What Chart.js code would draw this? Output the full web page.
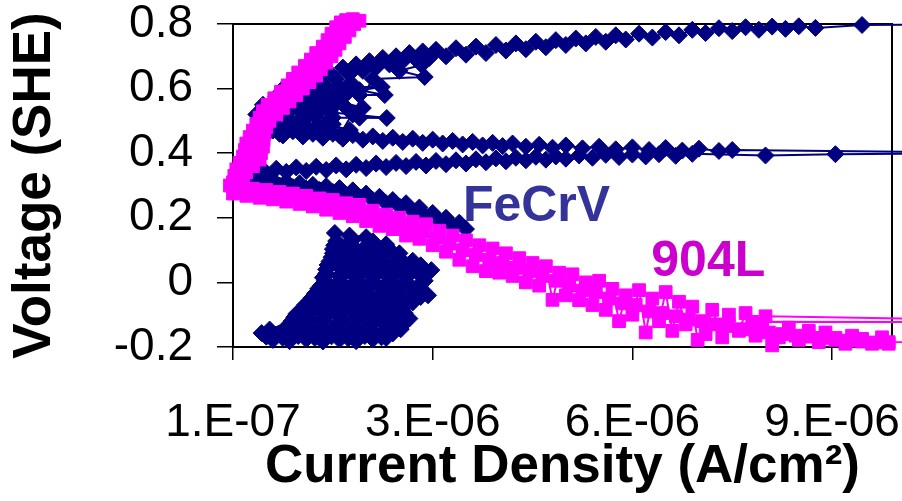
<!DOCTYPE html>
<html lang="en">
<head>
<meta charset="UTF-8">
<title>FeCrV vs 904L polarization</title>
<script src="https://cdn.jsdelivr.net/npm/chart.js"></script>
<style>
  html, body { margin: 0; padding: 0; background: #fff; }
  canvas { display: block; }
</style>
</head>
<body>
<canvas id="chart" width="902" height="501"></canvas>
<script>
// current density in uA/cm2 (converted to A/cm2 below), voltage in V vs SHE
const fecrvCathodic = [
  [0.7,-0.178],[0.95,-0.182],[1.2,-0.176],[1.45,-0.183],[1.7,-0.177],[1.95,-0.182],[2.2,-0.176],[2.4,-0.172],
  [2.5,-0.158],[2.25,-0.162],[2.0,-0.155],[1.75,-0.16],[1.5,-0.154],[1.25,-0.16],[1.0,-0.156],[0.75,-0.162],[0.53,-0.157],
  [0.9,-0.138],[1.15,-0.132],[1.4,-0.138],[1.65,-0.131],[1.9,-0.137],[2.15,-0.13],[2.4,-0.136],[2.6,-0.13],
  [2.75,-0.112],[2.5,-0.108],[2.25,-0.114],[2.0,-0.107],[1.75,-0.113],[1.5,-0.106],[1.25,-0.112],[1.02,-0.108],
  [1.135,-0.085],[1.35,-0.08],[1.6,-0.087],[1.85,-0.081],[2.1,-0.088],[2.35,-0.082],[2.6,-0.086],
  [2.8,-0.062],[2.55,-0.057],[2.3,-0.063],[2.05,-0.056],[1.8,-0.062],[1.55,-0.055],[1.25,-0.06],
  [1.33,-0.035],[1.55,-0.03],[1.8,-0.037],[2.05,-0.031],[2.3,-0.038],[2.55,-0.032],[2.8,-0.037],[3.03,-0.04],
  [2.9,-0.012],[2.65,-0.007],[2.4,-0.013],[2.15,-0.006],[1.9,-0.012],[1.65,-0.005],[1.42,-0.01],
  [1.45,0.015],[1.7,0.02],[1.95,0.013],[2.2,0.019],[2.45,0.012],[2.7,0.018],[2.95,0.014],
  [3.08,0.038],[2.85,0.043],[2.6,0.037],[2.35,0.044],[2.1,0.038],[1.85,0.045],[1.5,0.04],
  [1.55,0.065],[1.8,0.07],[2.05,0.063],[2.3,0.069],[2.55,0.062],[2.8,0.067],
  [2.6,0.09],[2.35,0.095],[2.1,0.088],[1.85,0.094],[1.6,0.09],
  [1.62,0.115],[1.85,0.12],[2.1,0.113],[2.4,0.118],
  [2.1,0.14],[1.85,0.145],[1.63,0.153]
];
const fecrvCathodic2 = [
  [0.6,-0.168],[0.85,-0.172],[1.08,-0.166],[1.33,-0.172],[1.58,-0.167],[1.83,-0.173],[2.08,-0.166],[2.33,-0.17],
  [2.62,-0.145],[2.38,-0.149],[2.12,-0.143],[1.88,-0.149],[1.62,-0.144],[1.38,-0.15],[1.12,-0.145],[0.88,-0.15],[0.65,-0.146],
  [0.98,-0.12],[1.2,-0.125],[1.45,-0.119],[1.7,-0.124],[1.95,-0.118],[2.2,-0.124],[2.45,-0.12],[2.68,-0.125],
  [2.68,-0.095],[2.45,-0.1],[2.2,-0.094],[1.95,-0.099],[1.7,-0.093],[1.45,-0.098],[1.2,-0.094],[1.05,-0.098],
  [1.18,-0.07],[1.42,-0.075],[1.68,-0.069],[1.92,-0.074],[2.18,-0.068],[2.42,-0.073],[2.7,-0.07],
  [2.92,-0.045],[2.68,-0.05],[2.42,-0.044],[2.18,-0.049],[1.92,-0.043],[1.68,-0.048],[1.42,-0.044],[1.28,-0.048],
  [1.38,-0.02],[1.6,-0.025],[1.85,-0.019],[2.1,-0.024],[2.35,-0.018],[2.6,-0.023],[2.85,-0.019],
  [2.98,0.005],[2.72,0.0],[2.48,0.006],[2.22,0.001],[1.98,0.007],[1.72,0.002],[1.48,0.006],
  [1.5,0.028],[1.75,0.024],[2.0,0.03],[2.25,0.025],[2.5,0.031],[2.75,0.026],[3.0,0.03],
  [2.92,0.053],[2.68,0.049],[2.42,0.055],[2.18,0.05],[1.92,0.056],[1.68,0.051],[1.52,0.054],
  [1.58,0.078],[1.82,0.082],[2.08,0.076],[2.32,0.081],[2.58,0.077],
  [2.45,0.103],[2.2,0.107],[1.95,0.101],[1.7,0.106],[1.6,0.103],
  [1.65,0.128],[1.9,0.132],[2.2,0.127]
];
const fecrvActive = [
  [3.6,0.165],[3.5,0.185],[3.4,0.175],[3.3,0.2],[3.2,0.19],[3.1,0.215],[3.0,0.205],[2.9,0.232],
  [2.8,0.22],[2.7,0.245],[2.6,0.235],[2.5,0.255],[2.4,0.245],[2.3,0.265],[2.2,0.255],[2.1,0.275],
  [2.0,0.265],[1.9,0.285],[1.8,0.272],[1.7,0.292],[1.6,0.28],[1.5,0.298],[1.4,0.286],[1.3,0.302],
  [1.2,0.29],[1.1,0.307],[1.0,0.295],[0.9,0.312],[0.8,0.3],[0.7,0.317],[0.6,0.305],[0.5,0.322],
  [0.4,0.312],[0.3,0.332]
];
const fecrvAnodic = [
  [0.3,0.345],[0.45,0.355],[0.6,0.34],[0.75,0.352],[0.9,0.342],[1.05,0.356],[1.2,0.345],[1.35,0.358],
  [1.5,0.348],[1.65,0.362],[1.8,0.35],[1.95,0.364],[2.1,0.354],[2.25,0.368],[2.4,0.357],[2.55,0.37],
  [2.7,0.36],[2.85,0.373],[3.0,0.362],[3.15,0.376],[3.3,0.366],[3.45,0.378],[3.6,0.368],[3.75,0.381],
  [3.9,0.372],[4.05,0.384],[4.2,0.375],[4.35,0.386],[4.5,0.378],[4.65,0.389],[4.8,0.38],[4.95,0.39],
  [5.1,0.383],[5.3,0.393],[5.5,0.386],[5.7,0.395],[5.9,0.388],[6.1,0.396],[6.3,0.39],[6.5,0.397],
  [6.75,0.392],[7.0,0.398],[8.1,0.393],[9.15,0.397],[12,0.4]
];
const fecrvReturn = [
  [0.55,0.46],[0.7,0.47],[0.85,0.455],[1.0,0.468],[1.15,0.452],[1.3,0.464],[1.45,0.448],[1.6,0.46],
  [1.75,0.445],[1.9,0.456],[2.05,0.442],[2.2,0.452],[2.35,0.438],[2.5,0.448],[2.65,0.435],[2.8,0.445],
  [2.95,0.432],[3.1,0.442],[3.25,0.43],[3.4,0.438],[3.55,0.427],[3.7,0.435],[3.85,0.424],[4.0,0.432],
  [4.15,0.422],[4.3,0.43],[4.5,0.42],[4.7,0.426],[4.9,0.417],[5.1,0.424],[5.35,0.415],[5.6,0.42],
  [5.85,0.412],[6.1,0.418],[6.35,0.41],[6.6,0.416],[6.85,0.408],[7.1,0.414],[7.4,0.407],[7.6,0.41],[12,0.4]
];
const fecrvPassive = [
  [0.55,0.48],[0.8,0.46],[1.0,0.49],[0.75,0.52],[1.1,0.5],[1.4,0.47],[1.855,0.472],[1.5,0.49],
  [1.2,0.51],[1.6,0.51],[2.0,0.51],[2.41,0.509],[1.9,0.52],[1.4,0.53],[1.0,0.545],[0.7,0.56],
  [1.2,0.555],[1.5,0.545],[1.78,0.545],[2.05,0.54],[1.7,0.56],[1.3,0.575],[0.9,0.59],[1.2,0.59],
  [1.6,0.585],[2.0,0.58],[2.38,0.58],[2.0,0.595],[2.335,0.605],[1.8,0.605],[1.4,0.615],[1.05,0.62],
  [0.85,0.6],[1.1,0.57],[0.95,0.53],[0.7,0.5],[1.3,0.46],[1.7,0.455],[2.2,0.63],[2.98,0.636],
  [2.6,0.655],[2.935,0.673]
];
const fecrvPassive2 = [
  [0.65,0.468],[0.87,0.474],[1.09,0.466],[1.31,0.473],[1.53,0.467],
  [1.6,0.49],[1.38,0.486],[1.16,0.492],[0.94,0.487],[0.72,0.493],
  [0.68,0.51],[0.9,0.514],[1.12,0.508],[1.34,0.513],[1.56,0.507],
  [1.55,0.53],[1.33,0.526],[1.11,0.532],[0.89,0.527],[0.7,0.533],
  [0.75,0.55],[0.97,0.554],[1.19,0.548],[1.41,0.553],[1.63,0.549],
  [1.7,0.57],[1.48,0.566],[1.26,0.572],[1.04,0.567],[0.85,0.573],
  [0.95,0.59],[1.17,0.594],[1.39,0.588],[1.61,0.593],[1.83,0.589],
  [1.9,0.612],[1.68,0.607],[1.46,0.613],[1.24,0.608],[1.05,0.614]
];
const fecrvUpper = [
  [0.45,0.52],[0.55,0.55],[0.65,0.535],[0.75,0.575],[0.85,0.56],[0.95,0.6],[1.05,0.58],[1.15,0.62],
  [1.25,0.6],[1.35,0.635],[1.45,0.615],[1.55,0.65],[1.65,0.63],[1.75,0.665],[1.85,0.645],[1.95,0.675],
  [2.05,0.655],[2.15,0.685],[2.25,0.665],[2.35,0.695],[2.45,0.675],[2.55,0.7],[2.65,0.685],[2.75,0.71],
  [2.85,0.69],[2.95,0.715],[3.05,0.695],[3.15,0.72],[3.3,0.7],[3.45,0.725],[3.6,0.705],[3.75,0.73],
  [3.9,0.71],[4.05,0.735],[4.2,0.718],[4.35,0.74],[4.5,0.722],[4.65,0.745],[4.8,0.728],[4.95,0.75],
  [5.1,0.735],[5.25,0.755],[5.4,0.74],[5.55,0.76],[5.7,0.745],[5.85,0.765],[6.0,0.752],[6.2,0.77],
  [6.4,0.758],[6.6,0.775],[6.8,0.765],[7.0,0.782],[7.2,0.772],[7.4,0.787],[7.6,0.778],[7.8,0.79],
  [8.0,0.782],[8.2,0.792],[8.4,0.785],[8.6,0.793],[8.85,0.788],[9.55,0.797],[12,0.8]
];
const alloy904Cathodic = [
  [14,-0.168],[9.95,-0.185],[9.85,-0.17],[9.7,-0.19],[9.55,-0.175],[9.4,-0.165],[9.3,-0.19],[9.15,-0.172],
  [9.0,-0.155],[8.9,-0.185],[8.75,-0.15],[8.6,-0.178],[8.45,-0.14],[8.3,-0.17],[8.2,-0.195],[8.05,-0.13],
  [7.9,-0.122],[14,-0.124],[8.1,-0.105],[7.95,-0.165],[7.8,-0.095],[7.7,-0.15],[7.55,-0.1],[7.45,-0.17],
  [7.3,-0.085],[7.2,-0.16],[7.08,-0.178],[7.0,-0.075],[6.9,-0.13],[6.8,-0.06],[6.7,-0.15],[6.6,-0.03],
  [6.5,-0.12],[6.4,-0.05],[6.3,-0.155],[6.2,-0.024],[6.1,-0.1],[6.0,-0.04],[5.9,-0.12],[5.8,-0.02],
  [5.7,-0.085],[5.6,0.005],[5.5,-0.07],[5.4,0.0],[5.3,-0.055],[5.2,0.025],[5.1,-0.04],[5.0,0.03],
  [4.9,-0.054],[4.8,0.05],[4.7,-0.01],[4.6,0.06],[4.5,0.0],[4.4,0.075],[4.3,0.02],[4.2,0.09],
  [4.1,0.03],[4.0,0.105],[3.9,0.035],[3.8,0.115],[3.7,0.05],[3.6,0.13],[3.5,0.07],[3.4,0.145],
  [3.3,0.095],[3.2,0.16],[3.1,0.115],[3.0,0.18],[2.9,0.135],[2.8,0.188],[2.7,0.145],[2.6,0.2],
  [2.5,0.165],[2.4,0.21],[2.3,0.175],[2.2,0.222],[2.1,0.19],[2.0,0.24],[1.9,0.205],[1.8,0.245],
  [1.7,0.215],[1.6,0.255],[1.5,0.225],[1.4,0.26],[1.3,0.235],[1.2,0.268],[1.1,0.243],[1.0,0.275],
  [0.9,0.25],[0.8,0.28],[0.7,0.257],[0.6,0.286],[0.5,0.262],[0.4,0.29],[0.3,0.268],[0.2,0.295],
  [0.1,0.275],[0.05,0.3]
];
const alloy904Mid = [
  [0.15,0.285],[0.35,0.282],[0.55,0.275],[0.75,0.27],[0.95,0.262],[1.15,0.257],[1.35,0.248],[1.55,0.24],
  [1.75,0.232],[1.95,0.222],[2.15,0.208],[2.35,0.195],[2.55,0.182],[2.75,0.168],[2.95,0.157],[3.15,0.138],
  [3.35,0.12],[3.55,0.1],[3.75,0.085],[3.95,0.07],[4.15,0.06],[4.35,0.045],[4.55,0.035],[4.75,0.02],
  [4.95,0.005],[5.15,-0.01],[5.35,-0.025],[5.55,-0.03],[5.75,-0.05],[5.95,-0.065],[6.15,-0.07],[6.35,-0.09],
  [6.55,-0.095],[6.75,-0.105],[6.95,-0.115],[7.15,-0.12],[7.35,-0.13],[7.55,-0.135],[7.75,-0.145],[7.95,-0.15],
  [8.15,-0.155],[8.35,-0.16],[8.55,-0.165],[8.75,-0.168],[8.95,-0.172],[9.15,-0.178],[9.35,-0.18],[9.55,-0.183],
  [9.75,-0.186],[9.95,-0.19]
];
const alloy904Anodic = [
  [0.12,0.29],[0.22,0.3],[0.1,0.31],[0.25,0.32],[0.12,0.33],[0.3,0.34],[0.15,0.35],[0.4,0.36],
  [0.2,0.37],[0.5,0.38],[0.25,0.39],[0.52,0.4],[0.28,0.41],[0.55,0.42],[0.3,0.43],[0.56,0.44],
  [0.35,0.45],[0.57,0.46],[0.4,0.47],[0.6,0.48],[0.45,0.49],[0.65,0.5],[0.5,0.51],[0.75,0.52],
  [0.55,0.53],[0.85,0.54],[0.62,0.55],[0.95,0.56],[0.72,0.57],[1.05,0.58],[0.82,0.59],[1.15,0.6],
  [0.92,0.61],[1.25,0.62],[1.0,0.63],[1.35,0.64],[1.08,0.65],[1.42,0.66],[1.18,0.67],[1.5,0.68],
  [1.27,0.69],[1.58,0.7],[1.35,0.71],[1.64,0.72],[1.45,0.73],[1.7,0.74],[1.52,0.75],[1.78,0.76],
  [1.58,0.77],[1.85,0.78],[1.65,0.79],[1.92,0.8],[1.72,0.805],[2.0,0.81],[1.8,0.812]
];
const alloy904Reverse = [
  [1.9,0.815],[1.8,0.79],[1.7,0.765],[1.6,0.74],[1.5,0.715],[1.4,0.69],[1.3,0.665],[1.2,0.64],
  [1.08,0.615],[0.95,0.59],[0.82,0.565],[0.7,0.54],[0.6,0.515],[0.52,0.49],[0.46,0.465],[0.42,0.44],
  [0.4,0.415],[0.36,0.39],[0.3,0.365],[0.25,0.34],[0.2,0.315]
];

const xTickValues = [1e-7, 3.1e-6, 6.1e-6, 9.1e-6];
const xTickLabels = ['1.E-07', '3.E-06', '6.E-06', '9.E-06'];
const yTickValues = [-0.2, 0, 0.2, 0.4, 0.6, 0.8];
const yTickLabels = ['-0.2', '0', '0.2', '0.4', '0.6', '0.8'];

const navy = '#000080';
const magenta = '#ff00ff';

Chart.defaults.font.family = "'Liberation Sans', Arial, sans-serif";
Chart.defaults.color = '#000';

function toPoints(arr) {
  return arr.map(p => ({ x: p[0] * 1e-6, y: p[1] }));
}

function fecrvSet(arr) {
  return {
    data: toPoints(arr), showLine: true, order: 1,
    borderColor: navy, backgroundColor: navy, borderWidth: 2,
    pointStyle: 'rectRot', pointRadius: 8.5, pointBorderWidth: 1,
    pointBackgroundColor: navy, pointBorderColor: navy,
    clip: { left: 10, top: 12, right: 12, bottom: 10 }
  };
}

function alloySet(arr) {
  return {
    data: toPoints(arr), showLine: true, order: 0,
    borderColor: magenta, backgroundColor: magenta, borderWidth: 2,
    pointStyle: 'rect', pointRadius: 9, pointBorderWidth: 1,
    pointBackgroundColor: magenta, pointBorderColor: magenta,
    clip: { left: 10, top: 12, right: 12, bottom: 10 }
  };
}

// black frame round the plot, under the marks
const framePlugin = {
  id: 'frame',
  beforeDatasetsDraw(chart) {
    const { ctx, chartArea: a } = chart;
    ctx.save();
    ctx.strokeStyle = '#000';
    ctx.lineWidth = 2;
    ctx.strokeRect(a.left, a.top, a.right - a.left, a.bottom - a.top);
    ctx.restore();
  }
};

// series names written inside the plot
const seriesLabels = [
  { text: 'FeCrV', x: 4.66e-6, y: 0.233, color: '#333399' },
  { text: '904L', x: 7.24e-6, y: 0.063, color: '#cc00cc' }
];
const labelPlugin = {
  id: 'seriesLabels',
  afterDatasetsDraw(chart) {
    const { ctx, scales } = chart;
    ctx.save();
    ctx.font = "bold 50px 'Liberation Sans', Arial, sans-serif";
    ctx.textAlign = 'center';
    ctx.textBaseline = 'middle';
    seriesLabels.forEach(l => {
      ctx.fillStyle = l.color;
      ctx.fillText(l.text, scales.x.getPixelForValue(l.x), scales.y.getPixelForValue(l.y));
    });
    ctx.restore();
  }
};

new Chart(document.getElementById('chart'), {
  type: 'scatter',
  data: {
    datasets: [
      fecrvSet(fecrvCathodic), fecrvSet(fecrvCathodic2), fecrvSet(fecrvActive), fecrvSet(fecrvAnodic),
      fecrvSet(fecrvReturn), fecrvSet(fecrvPassive), fecrvSet(fecrvPassive2), fecrvSet(fecrvUpper),
      alloySet(alloy904Cathodic), alloySet(alloy904Mid), alloySet(alloy904Anodic), alloySet(alloy904Reverse)
    ]
  },
  options: {
    responsive: false,
    animation: false,
    devicePixelRatio: 1,
    layout: { padding: { left: 0, top: 24, right: 10, bottom: 0 } },
    elements: { line: { tension: 0 } },
    plugins: { legend: { display: false }, tooltip: { enabled: false } },
    scales: {
      x: {
        type: 'linear', min: 1e-7, max: 1e-5,
        afterBuildTicks: s => { s.ticks = xTickValues.map(v => ({ value: v })); },
        afterFit: s => { s.height = 154; s.paddingLeft = 0; s.paddingRight = 0; },
        ticks: {
          font: { size: 46 }, padding: 36, maxRotation: 0, autoSkip: false,
          callback: (v, i) => xTickLabels[i]
        },
        grid: { drawOnChartArea: false, drawTicks: true, tickLength: 13, color: '#000', lineWidth: 1.5 },
        border: { display: false },
        title: { display: true, text: 'Current Density (A/cm²)', font: { size: 53, weight: 'bold' }, padding: { top: 0, bottom: 2 } }
      },
      y: {
        type: 'linear', min: -0.2, max: 0.8,
        afterBuildTicks: s => { s.ticks = yTickValues.map(v => ({ value: v })); },
        afterFit: s => { s.width = 233; s.paddingTop = 0; s.paddingBottom = 0; },
        ticks: {
          font: { size: 46, lineHeight: 1 }, padding: 24,
          callback: (v, i) => yTickLabels[i]
        },
        grid: { drawOnChartArea: false, drawTicks: true, tickLength: 16, color: '#000', lineWidth: 1.5 },
        border: { display: false },
        title: { display: true, text: 'Voltage (SHE)', font: { size: 53, weight: 'bold' }, padding: { top: 4, bottom: 0 } }
      }
    }
  },
  plugins: [framePlugin, labelPlugin]
});
</script>
</body>
</html>
